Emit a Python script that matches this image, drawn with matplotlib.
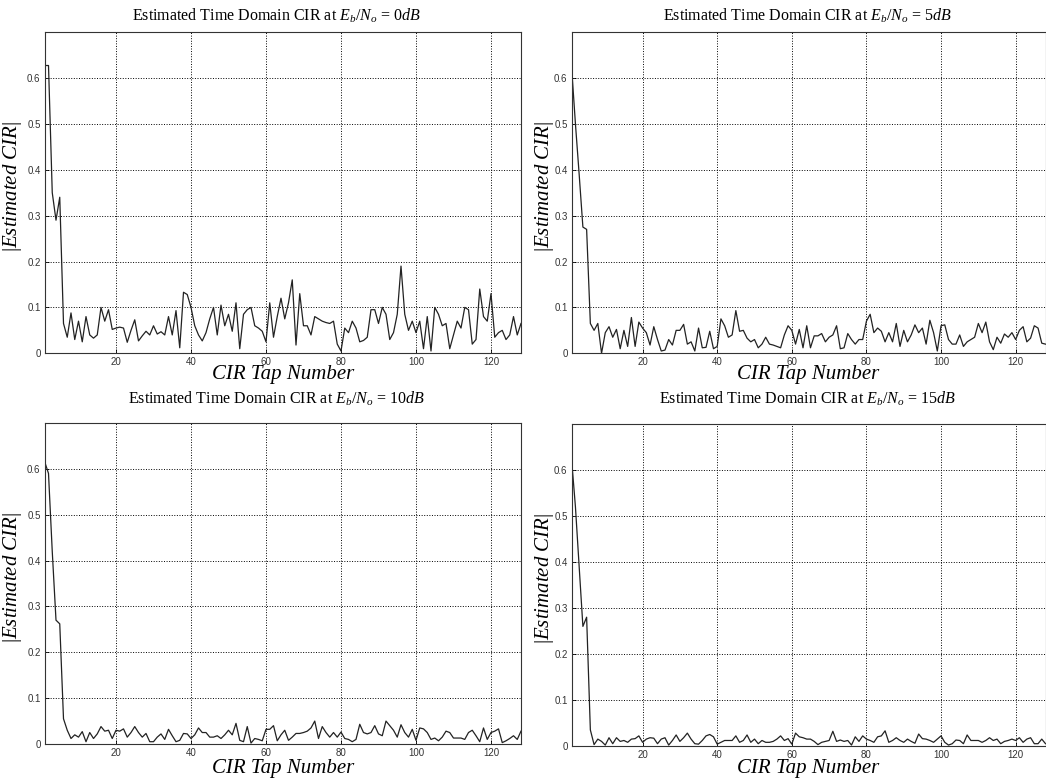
import matplotlib.pyplot as plt
import numpy as np

plt.rcParams['font.family'] = 'Liberation Serif'
plt.rcParams['mathtext.fontset'] = 'custom'
plt.rcParams['mathtext.rm'] = 'Liberation Serif'
plt.rcParams['mathtext.it'] = 'Liberation Serif:italic'

taps = np.arange(1, 129)
snr_labels = ['0dB', '5dB', '10dB', '15dB']

# |h| estimates, one list per Eb/No
cir_0db = [0.627, 0.627, 0.35, 0.29, 0.34, 0.065, 0.035, 0.088, 0.03, 0.07,
           0.025, 0.08, 0.04, 0.033, 0.04, 0.1, 0.07, 0.095, 0.052, 0.055,
           0.057, 0.055, 0.024, 0.05, 0.073, 0.027, 0.038, 0.048, 0.04, 0.06,
           0.042, 0.047, 0.04, 0.08, 0.04, 0.093, 0.012, 0.133, 0.128, 0.1,
           0.06, 0.04, 0.027, 0.045, 0.075, 0.1, 0.04, 0.105, 0.06, 0.085,
           0.048, 0.11, 0.01, 0.085, 0.095, 0.1, 0.06, 0.055, 0.048, 0.025,
           0.11, 0.035, 0.08, 0.12, 0.075, 0.11, 0.16, 0.018, 0.13, 0.06,
           0.06, 0.04, 0.08, 0.075, 0.07, 0.067, 0.065, 0.07, 0.02, 0.005,
           0.055, 0.045, 0.07, 0.055, 0.025, 0.028, 0.035, 0.095, 0.095, 0.065,
           0.1, 0.085, 0.03, 0.045, 0.085, 0.19, 0.085, 0.05, 0.07, 0.045,
           0.07, 0.01, 0.08, 0.005, 0.1, 0.085, 0.06, 0.065, 0.01, 0.04,
           0.07, 0.055, 0.1, 0.095, 0.02, 0.03, 0.14, 0.08, 0.07, 0.13,
           0.035, 0.045, 0.05, 0.03, 0.04, 0.08, 0.04, 0.065]

cir_5db = [0.62, 0.5, 0.39, 0.275, 0.27, 0.065, 0.05, 0.065, 0.0, 0.045,
           0.058, 0.035, 0.052, 0.01, 0.05, 0.015, 0.078, 0.015, 0.068, 0.055,
           0.045, 0.018, 0.058, 0.03, 0.005, 0.007, 0.03, 0.018, 0.05, 0.05,
           0.063, 0.02, 0.025, 0.005, 0.055, 0.012, 0.013, 0.048, 0.01, 0.015,
           0.075, 0.06, 0.035, 0.04, 0.093, 0.048, 0.05, 0.033, 0.025, 0.03,
           0.012, 0.02, 0.035, 0.02, 0.018, 0.015, 0.012, 0.04, 0.06, 0.05,
           0.02, 0.052, 0.012, 0.06, 0.012, 0.038, 0.038, 0.043, 0.025, 0.035,
           0.04, 0.06, 0.01, 0.012, 0.043, 0.03, 0.02, 0.03, 0.03, 0.07,
           0.085, 0.045, 0.055, 0.048, 0.025, 0.045, 0.025, 0.065, 0.015, 0.05,
           0.025, 0.04, 0.062, 0.045, 0.055, 0.02, 0.072, 0.045, 0.005, 0.06,
           0.062, 0.03, 0.02, 0.02, 0.04, 0.015, 0.025, 0.03, 0.035, 0.065,
           0.045, 0.068, 0.025, 0.008, 0.035, 0.022, 0.042, 0.035, 0.045, 0.03,
           0.05, 0.058, 0.025, 0.033, 0.06, 0.055, 0.022, 0.02]

cir_10db = [0.615, 0.59, 0.42, 0.27, 0.262, 0.055, 0.03, 0.012, 0.02, 0.015,
            0.027, 0.005, 0.025, 0.012, 0.022, 0.038, 0.028, 0.03, 0.012, 0.03,
            0.028, 0.033, 0.015, 0.025, 0.038, 0.025, 0.015, 0.023, 0.005, 0.005,
            0.015, 0.022, 0.01, 0.032, 0.018, 0.005, 0.008, 0.023, 0.022, 0.012,
            0.02, 0.035, 0.025, 0.025, 0.015, 0.015, 0.018, 0.012, 0.02, 0.03,
            0.02, 0.045, 0.008, 0.005, 0.038, 0.002, 0.012, 0.01, 0.007, 0.032,
            0.032, 0.04, 0.007, 0.02, 0.03, 0.008, 0.015, 0.023, 0.023, 0.025,
            0.028, 0.035, 0.05, 0.012, 0.038, 0.025, 0.015, 0.025, 0.015, 0.026,
            0.012, 0.01, 0.005, 0.01, 0.043, 0.025, 0.022, 0.025, 0.04, 0.022,
            0.018, 0.05, 0.04, 0.03, 0.015, 0.042, 0.025, 0.015, 0.032, 0.008,
            0.035, 0.033, 0.025, 0.01, 0.013, 0.007, 0.015, 0.028, 0.025, 0.013,
            0.013, 0.013, 0.01, 0.025, 0.03, 0.018, 0.005, 0.035, 0.01, 0.025,
            0.028, 0.033, 0.003, 0.007, 0.012, 0.018, 0.01, 0.028]

cir_15db = [0.62, 0.52, 0.39, 0.26, 0.28, 0.035, 0.003, 0.015, 0.01, 0.002,
            0.018, 0.005, 0.018, 0.01, 0.012, 0.008, 0.015, 0.016, 0.022, 0.008,
            0.015, 0.018, 0.017, 0.005, 0.015, 0.018, 0.002, 0.012, 0.024, 0.01,
            0.018, 0.028, 0.015, 0.005, 0.004, 0.012, 0.022, 0.025, 0.02, 0.004,
            0.008, 0.012, 0.012, 0.012, 0.022, 0.008, 0.012, 0.024, 0.008, 0.015,
            0.005, 0.012, 0.008, 0.008, 0.01, 0.015, 0.022, 0.012, 0.016, 0.004,
            0.028, 0.02, 0.018, 0.015, 0.015, 0.01, 0.003, 0.008, 0.01, 0.012,
            0.032, 0.01, 0.013, 0.01, 0.012, 0.002, 0.02, 0.01, 0.022, 0.015,
            0.012, 0.008, 0.02, 0.022, 0.033, 0.008, 0.012, 0.018, 0.012, 0.008,
            0.015, 0.01, 0.006, 0.026, 0.016, 0.015, 0.012, 0.008, 0.015, 0.022,
            0.008, 0.002, 0.005, 0.013, 0.012, 0.005, 0.024, 0.012, 0.012, 0.012,
            0.008, 0.012, 0.018, 0.012, 0.015, 0.005, 0.01, 0.012, 0.015, 0.012,
            0.018, 0.008, 0.015, 0.018, 0.005, 0.005, 0.015, 0.005]

all_cir = [cir_0db, cir_5db, cir_10db, cir_15db]

W, H = 1046, 783
fig = plt.figure(figsize=(W / 100, H / 100), dpi=100)

# axes boxes in pixels: left, top, right, bottom
boxes = [(44.75, 32, 521, 353.3),
         (571.7, 32, 1045.5, 353.3),
         (44.75, 423, 521, 744),
         (571.7, 424, 1045.5, 746)]
title_pos = [(276, 16), (807, 16), (276, 399), (807, 399)]
ylab_x = [13, 544, 13, 544]
xlab_y = [375, 375, 769, 769]

for i in range(4):
    l, t, r, b = boxes[i]
    ax = fig.add_axes([l / W, 1 - b / H, (r - l) / W, (b - t) / H])
    ax.plot(taps, all_cir[i], color='#222222', lw=0.9)
    ax.set_xlim(1, 128)
    ax.set_ylim(0, 0.7)
    ax.set_xticks([20, 40, 60, 80, 100, 120])
    ax.set_yticks([0, 0.1, 0.2, 0.3, 0.4, 0.5, 0.6])
    ax.set_yticklabels(['0', '0.1', '0.2', '0.3', '0.4', '0.5', '0.6'])
    ax.grid(True, color='black', linestyle=':', lw=0.7)
    ax.tick_params(direction='in', length=3, width=0.6, labelsize=7,
                   labelcolor='#333333', pad=3)
    for lab in ax.get_xticklabels() + ax.get_yticklabels():
        lab.set_family('Liberation Sans')
    for s in ax.spines.values():
        s.set_linewidth(0.8)
        s.set_color('#333333')

    ax.set_xlabel('CIR Tap Number', fontsize=15, style='italic', va='center')
    ax.xaxis.set_label_coords(0.5, (b - xlab_y[i]) / (b - t))
    ax.set_ylabel(r'$|\mathit{Estimated\ CIR}|$', fontsize=15, va='center')
    ax.yaxis.set_label_coords((ylab_x[i] - l) / (r - l), 0.52)

    tx, ty = title_pos[i]
    fig.text(tx / W, 1 - ty / H,
             r'Estimated Time Domain CIR at $E_b/N_o$ = $\mathit{' + snr_labels[i] + '}$',
             ha='center', va='center', fontsize=11.5)

fig.savefig('out.png', dpi=100)
